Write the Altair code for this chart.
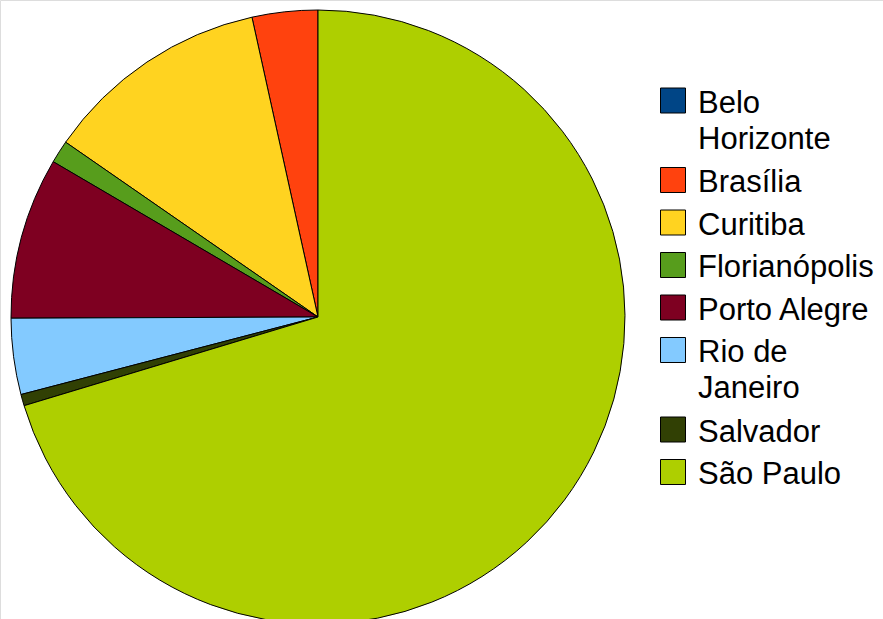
import altair as alt
import pandas as pd

cities = ["Belo Horizonte", "Brasília", "Curitiba", "Florianópolis",
          "Porto Alegre", "Rio de Janeiro", "Salvador", "São Paulo"]
legend_labels = ["Belo\nHorizonte", "Brasília", "Curitiba", "Florianópolis",
                 "Porto Alegre", "Rio de\nJaneiro", "Salvador", "São Paulo"]
shares = [0.0, 3.45, 11.9, 1.2, 8.5, 4.0, 0.6, 70.3]
colors = ["#004586", "#ff420e", "#ffd320", "#579d1c",
          "#7e0021", "#83caff", "#314004", "#aecf00"]

df = pd.DataFrame({"city": cities, "share": shares, "idx": range(len(cities))})

# legend layout derived from label line counts
ENTRY = 42.5
EXTRA_LINE = 37
TOP = 100.5
ys = []
y = TOP
for lbl in legend_labels:
    ys.append(y)
    y += ENTRY + EXTRA_LINE * (lbl.count("\n"))
leg = pd.DataFrame({"city": cities, "lbl": legend_labels, "sy": ys})

color_scale = alt.Scale(domain=cities, range=colors)

pie = alt.Chart(df).mark_arc(outerRadius=307, stroke="black", strokeWidth=1).encode(
    theta=alt.Theta("share:Q", stack=True),
    color=alt.Color("city:N", scale=color_scale, legend=None),
    order=alt.Order("idx:Q", sort="descending"),
    x=alt.value(318),
    y=alt.value(317),
)

sym = alt.Chart(leg).mark_square(size=625, stroke="black", strokeWidth=1, opacity=1).encode(
    x=alt.value(673),
    y=alt.Y("sy:Q", scale=None),
    color=alt.Color("city:N", scale=color_scale, legend=None),
)

txt = alt.Chart(leg).mark_text(
    align="left", baseline="alphabetic", fontSize=31, font="Liberation Sans",
    lineHeight=36, lineBreak="\n", dy=12, color="black"
).encode(
    x=alt.value(698),
    y=alt.Y("sy:Q", scale=None),
    text="lbl:N",
)

chart = alt.layer(pie, sym, txt).properties(
    width=883, height=619, autosize=alt.AutoSizeParams(type="none"), padding=0
).configure_view(stroke=None).configure(background="white")

chart.save("out.html", embed_options={"renderer": "svg", "actions": False})
